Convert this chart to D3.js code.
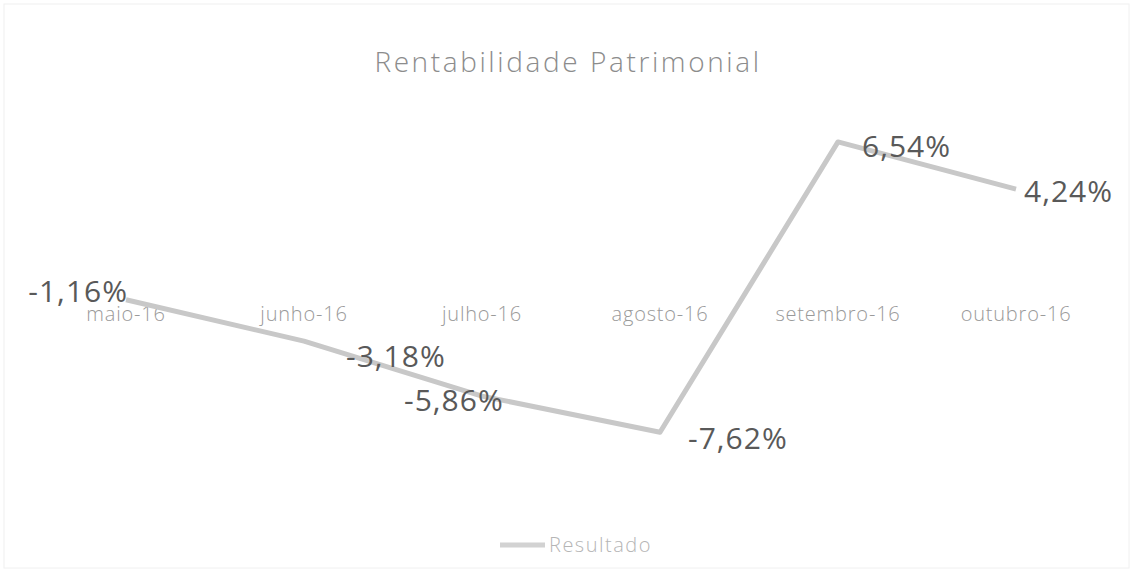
<!DOCTYPE html>
<html>
<head>
<meta charset="utf-8">
<script src="https://cdn.jsdelivr.net/npm/d3@7"></script>
<style>
  body { margin: 0; background: #fff; }
  svg { display: block; font-family: "Open Sans", sans-serif; }
</style>
</head>
<body>
<script>
// dados do gráfico
const meses = ["maio-16", "junho-16", "julho-16", "agosto-16", "setembro-16", "outubro-16"];
const resultado = [-1.16, -3.18, -5.86, -7.62, 6.54, 4.24];
const titulo = "Rentabilidade Patrimonial";
const serie = "Resultado";

// deslocamento manual dos rótulos (como no Excel)
const rotuloDx = [2, 42, -78, 28, 24, 8];
const rotuloDy = [2, 26, 15, 17, 15, 13];
const rotuloAncora = ["end", "start", "start", "start", "start", "start"];

const width = 1133;
const height = 572;

const svg = d3.select("body")
    .append("svg")
    .attr("width", width)
    .attr("height", height);

// borda do gráfico
svg.append("rect")
    .attr("x", 4).attr("y", 4)
    .attr("width", width - 8).attr("height", height - 8)
    .attr("fill", "none")
    .attr("stroke", "#f0f0f0");

// escalas
const xScale = d3.scaleBand()
    .domain(meses)
    .range([37, 1105]);

const yScale = d3.scaleLinear()
    .domain([-10, 10])
    .range([481, 71]);

const cx = d => xScale(d) + xScale.bandwidth() / 2;

// título
svg.append("text")
    .attr("x", 568)
    .attr("y", 72)
    .attr("text-anchor", "middle")
    .style("font-size", "28px")
    .style("font-weight", 300)
    .style("letter-spacing", "2.6px")
    .attr("fill", "#8c8c8c")
    .text(titulo);

// eixo x (só rótulos)
const xAxis = d3.axisBottom(xScale).tickSize(0).tickPadding(0);
const gx = svg.append("g")
    .attr("transform", "translate(0,307)")
    .call(xAxis);
gx.select(".domain").remove();
gx.selectAll("text")
    .style("font-family", "'Open Sans', sans-serif")
    .style("font-size", "20px")
    .style("font-weight", 300)
    .style("letter-spacing", "0.8px")
    .attr("fill", "#9a9a9a");

// linha
const linha = d3.line()
    .x((d, i) => cx(meses[i]))
    .y(d => yScale(d));

svg.append("path")
    .datum(resultado)
    .attr("d", linha)
    .attr("fill", "none")
    .attr("stroke", "#c8c8c8")
    .attr("stroke-width", 5)
    .attr("stroke-linejoin", "round");

// rótulos de dados
const fmt = v => v.toFixed(2).replace(".", ",") + "%";
svg.selectAll(".rotulo")
    .data(resultado)
    .enter()
    .append("text")
    .attr("class", "rotulo")
    .attr("x", (d, i) => cx(meses[i]) + rotuloDx[i])
    .attr("y", (d, i) => yScale(d) + rotuloDy[i])
    .attr("text-anchor", (d, i) => rotuloAncora[i])
    .style("font-size", "30px")
    .style("letter-spacing", "1px")
    .attr("fill", "#595959")
    .text(fmt);

// legenda
svg.append("line")
    .attr("x1", 500).attr("x2", 545)
    .attr("y1", 545).attr("y2", 545)
    .attr("stroke", "#d2d2d2")
    .attr("stroke-width", 5);

svg.append("text")
    .attr("x", 549)
    .attr("y", 552)
    .style("font-size", "20px")
    .style("font-weight", 300)
    .style("letter-spacing", "1.5px")
    .attr("fill", "#b5b5b5")
    .text(serie);
</script>
</body>
</html>
